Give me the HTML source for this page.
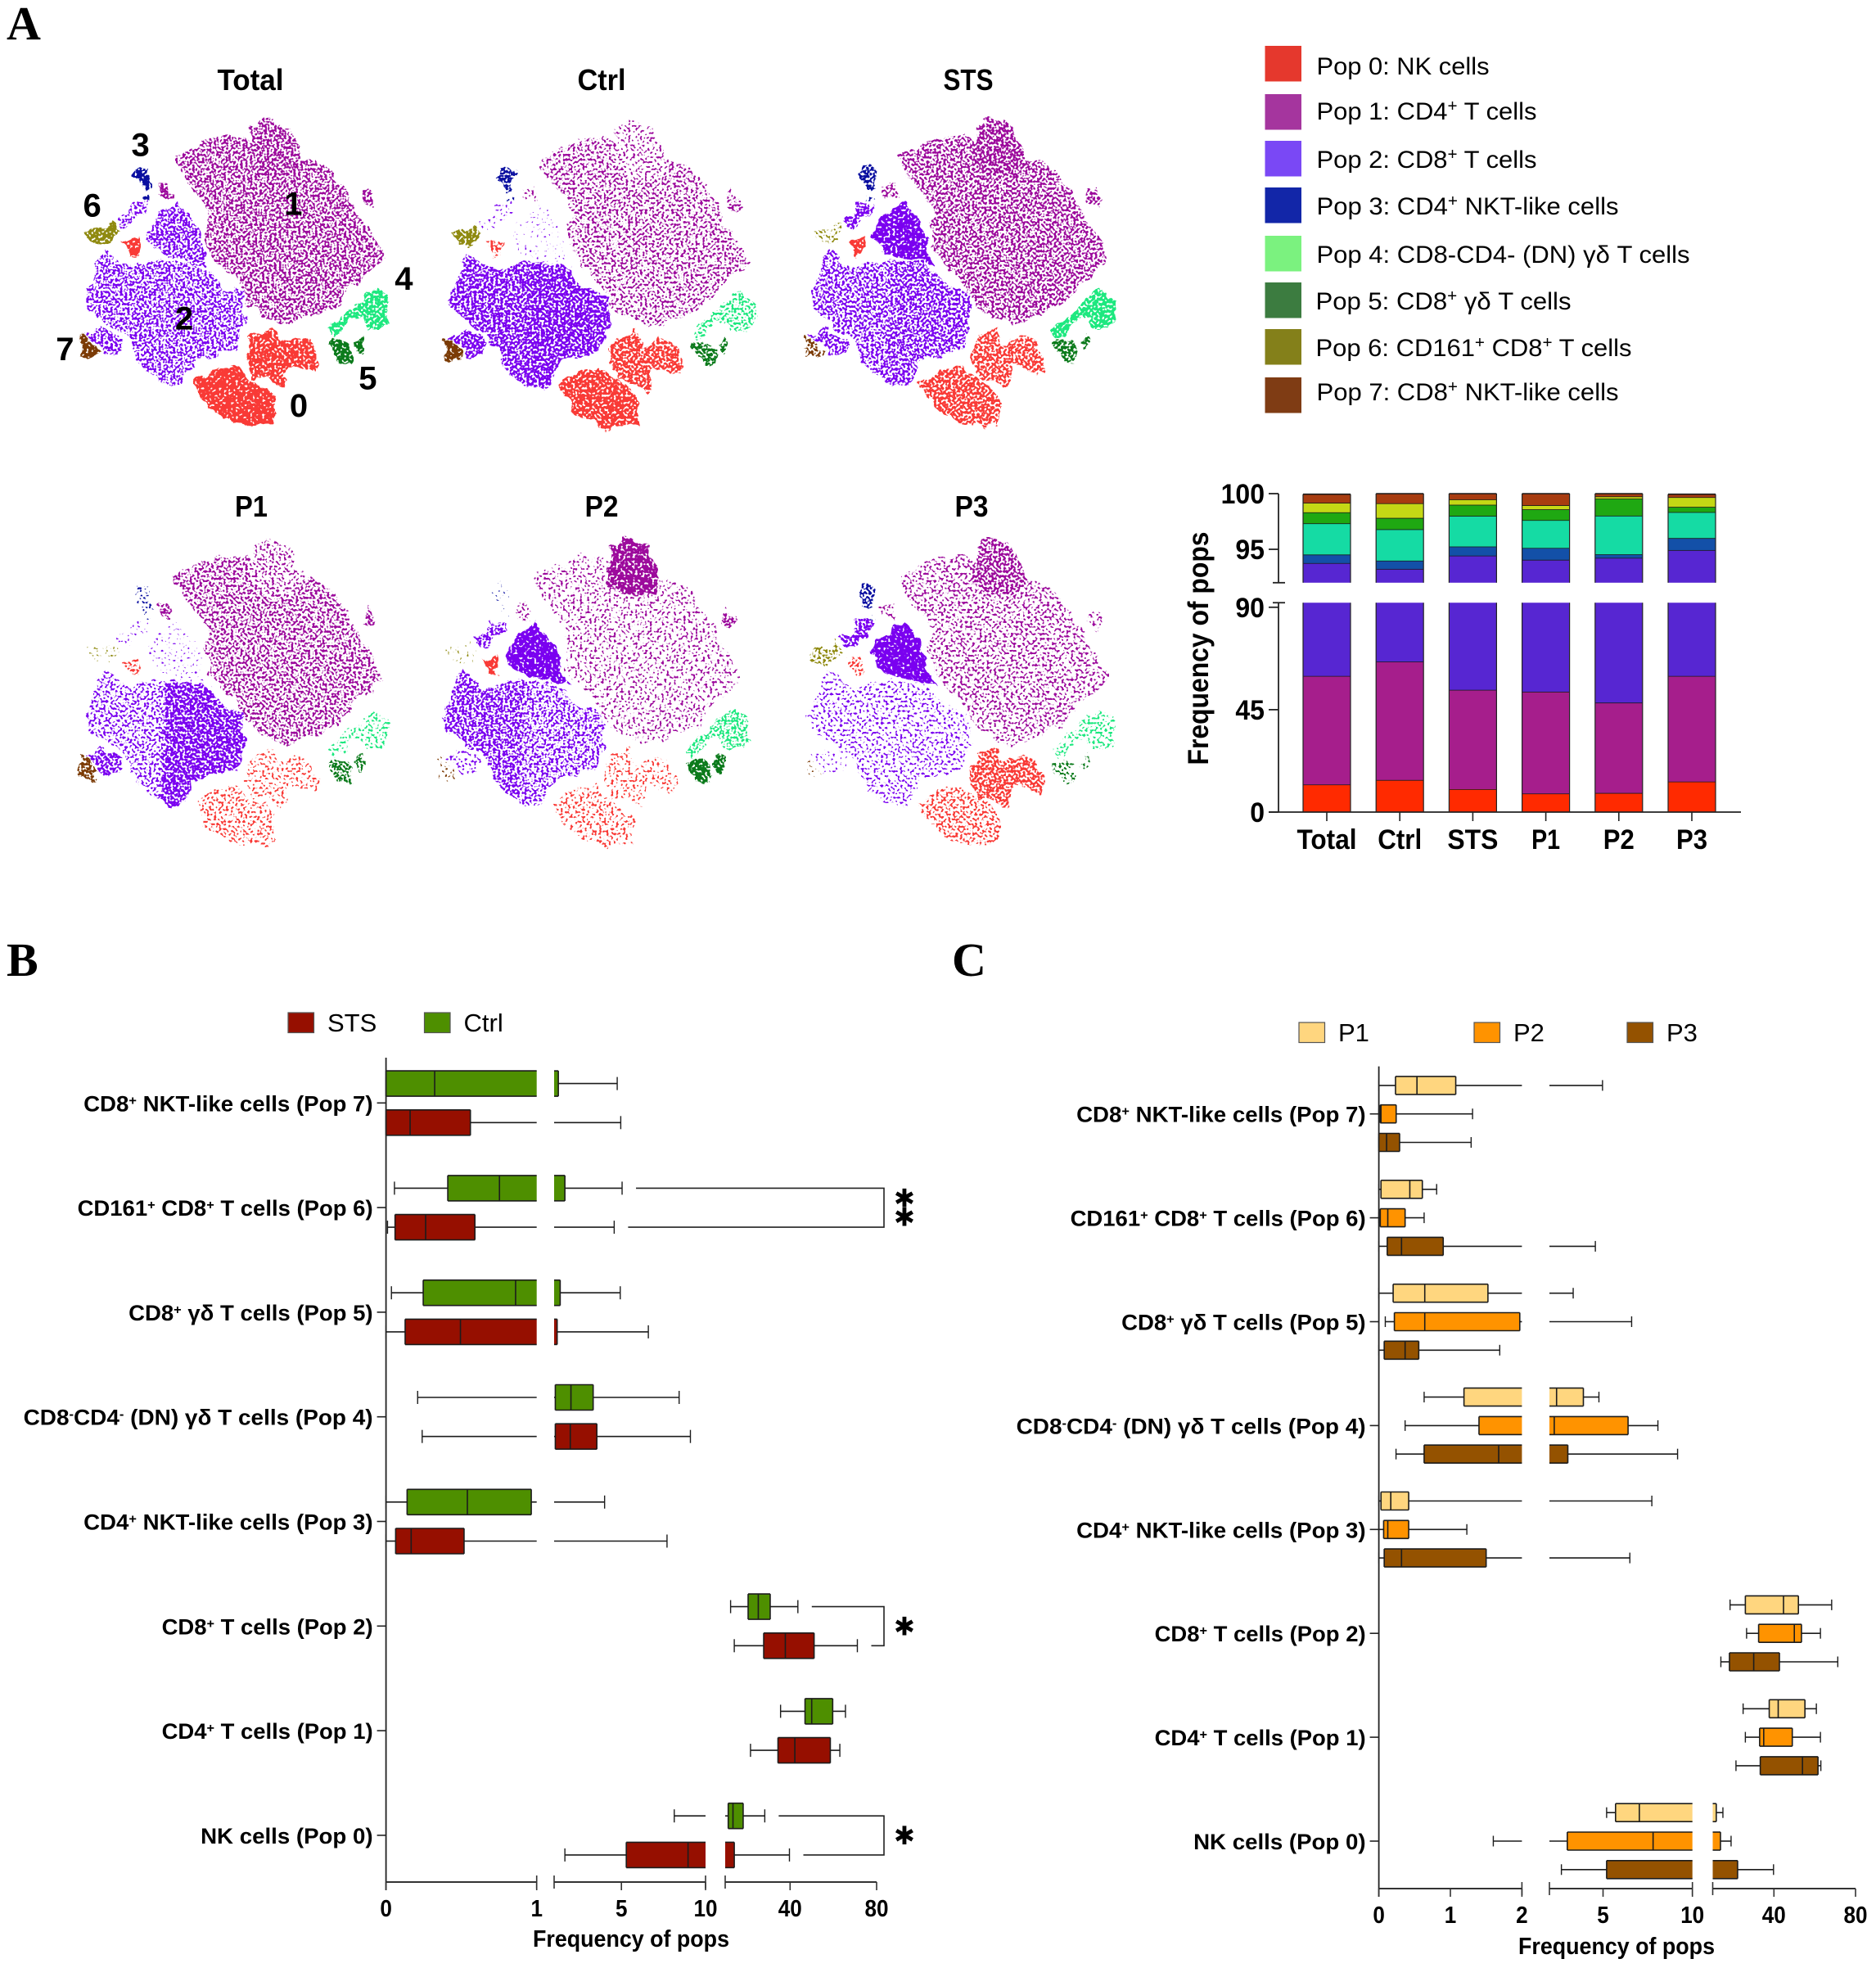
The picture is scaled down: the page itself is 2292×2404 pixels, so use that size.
<!DOCTYPE html>
<html lang="en">
<head>
<meta charset="utf-8">
<title>Immune cell populations figure</title>
<style>
html,body{margin:0;padding:0;background:#fff;}
svg{display:block;}
text{font-family:"Liberation Sans",sans-serif;fill:#000;white-space:pre;}
.panel-letter{font-family:"Liberation Serif",serif;font-weight:700;font-size:58px;}
.legend-text{font-size:30px;}
</style>
</head>
<body>
<svg id="figure" xmlns="http://www.w3.org/2000/svg" width="2292" height="2404" viewBox="0 0 2292 2404">
  <rect x="0" y="0" width="2292" height="2404" fill="#ffffff"/>
  <defs id="defs"></defs>
  <text class="panel-letter" x="8" y="48">A</text>
  <text class="panel-letter" x="8" y="1192">B</text>
  <text class="panel-letter" x="1163" y="1192">C</text>

  <g>
    <rect x="1545.5" y="56" width="44.5" height="43.5" fill="#e5382d"/>
    <text class="legend-text" x="1608.5" y="91" textLength="211" lengthAdjust="spacingAndGlyphs">Pop 0: NK cells</text>
    <rect x="1545.5" y="115" width="44.5" height="43.5" fill="#a5359e"/>
    <text class="legend-text" x="1608.5" y="146" textLength="269" lengthAdjust="spacingAndGlyphs">Pop 1: CD4<tspan dy="-10" font-size="20">+</tspan><tspan dy="10"> T cells</tspan></text>
    <rect x="1545.5" y="172" width="44.5" height="43.5" fill="#7a48f5"/>
    <text class="legend-text" x="1608.5" y="205" textLength="269" lengthAdjust="spacingAndGlyphs">Pop 2: CD8<tspan dy="-10" font-size="20">+</tspan><tspan dy="10"> T cells</tspan></text>
    <rect x="1545.5" y="229" width="44.5" height="43.5" fill="#1226a8"/>
    <text class="legend-text" x="1608.5" y="262" textLength="369" lengthAdjust="spacingAndGlyphs">Pop 3: CD4<tspan dy="-10" font-size="20">+</tspan><tspan dy="10"> NKT-like cells</tspan></text>
    <rect x="1545.5" y="288" width="44.5" height="43.5" fill="#7bf27f"/>
    <text class="legend-text" x="1608.5" y="321" textLength="456" lengthAdjust="spacingAndGlyphs">Pop 4: CD8-CD4- (DN) γδ T cells</text>
    <rect x="1545.5" y="345" width="44.5" height="43.5" fill="#3c7c40"/>
    <text class="legend-text" x="1607.5" y="378" textLength="312" lengthAdjust="spacingAndGlyphs">Pop 5: CD8<tspan dy="-10" font-size="20">+</tspan><tspan dy="10"> γδ T cells</tspan></text>
    <rect x="1545.5" y="402" width="44.5" height="43.5" fill="#84801a"/>
    <text class="legend-text" x="1607.5" y="435" textLength="386" lengthAdjust="spacingAndGlyphs">Pop 6: CD161<tspan dy="-10" font-size="20">+</tspan><tspan dy="10"> CD8</tspan><tspan dy="-10" font-size="20">+</tspan><tspan dy="10"> T cells</tspan></text>
    <rect x="1545.5" y="461" width="44.5" height="43.5" fill="#7f3c14"/>
    <text class="legend-text" x="1608.5" y="489" textLength="369" lengthAdjust="spacingAndGlyphs">Pop 7: CD8<tspan dy="-10" font-size="20">+</tspan><tspan dy="10"> NKT-like cells</tspan></text>
  </g>
  <g id="tsne-layer"></g>
  <g id="stack-layer"></g>
  <g id="box-b-layer"></g>
  <g id="box-c-layer"></g>
</svg>

<script>
/* ---------- Stacked bar chart data (percent of cells) ---------- */
const stackCategories = ['Total', 'Ctrl', 'STS', 'P1', 'P2', 'P3'];
const pop0Freq = [12.1, 14.1, 10.07, 8.15, 8.4, 13.4];
const pop1Freq = [47.7, 52.0, 43.63, 44.75, 39.7, 46.4];
const pop2Freq = [33.96, 27.14, 40.73, 41.16, 46.13, 35.13];
const pop3Freq = [0.77, 0.74, 0.82, 1.06, 0.32, 1.08];
const pop4Freq = [2.8, 2.82, 2.75, 2.5, 3.47, 2.33];
const pop5Freq = [0.99, 1.02, 1.0, 0.97, 1.53, 0.47];
const pop6Freq = [0.86, 1.31, 0.48, 0.37, 0.2, 0.87];
const pop7Freq = [0.77, 0.87, 0.52, 1.04, 0.25, 0.27];
const stackTicksLower = [0, 45, 90];
const stackTicksUpper = [95, 100];

/* ---------- Box chart B (frequency, top row = Pop 7) ---------- */
const popLabels = ['CD8^+ NKT-like cells (Pop 7)', 'CD161^+ CD8^+ T cells (Pop 6)', 'CD8^+ γδ T cells (Pop 5)', 'CD8^-CD4^- (DN) γδ T cells (Pop 4)', 'CD4^+ NKT-like cells (Pop 3)', 'CD8^+ T cells (Pop 2)', 'CD4^+ T cells (Pop 1)', 'NK cells (Pop 0)'];
const ctrlLow = [0, 0.056, 0.036, 0.21, 0, 12.5, 35.6, 8.14];
const ctrlQ1 = [0, 0.41, 0.247, 1.07, 0.14, 20.6, 46.9, 11.4];
const ctrlMedian = [0.323, 0.753, 0.86, 2.0, 0.54, 25.3, 50, 13.6];
const ctrlQ3 = [1.25, 1.64, 1.36, 3.32, 0.964, 30.8, 59.7, 18.3];
const ctrlHigh = [4.75, 5.04, 4.93, 8.43, 4.0, 43.6, 65.6, 28.3];
const stsLow = [0, 0.01, 0, 0.24, 0, 14.2, 21.7, 1.64];
const stsQ1 = [0, 0.06, 0.127, 1.07, 0.064, 27.8, 34.4, 5.29];
const stsMedian = [0.16, 0.263, 0.494, 1.96, 0.167, 37.8, 42.2, 8.96];
const stsQ3 = [0.56, 0.59, 1.18, 3.54, 0.518, 51.1, 58.6, 14.2];
const stsHigh = [4.96, 4.57, 6.6, 9.1, 7.71, 71.1, 63, 39.7];
const boxBTicks = [0, 1, 5, 10, 40, 80];
const significantRows = [1, 5, 7];
const significantMarks = [2, 1, 1];

/* ---------- Box chart C ---------- */
const p1Low = [0, 0, 0, 0.633, 0, 18.5, 24.9, 5.2];
const p1Q1 = [0.233, 0.03, 0.2, 1.19, 0.03, 26, 37.7, 5.7];
const p1Median = [0.533, 0.433, 0.642, 2.4, 0.167, 44.7, 42.1, 7.03];
const p1Q3 = [1.075, 0.608, 1.525, 3.9, 0.417, 52, 55.2, 11.75];
const p1High = [4.97, 0.808, 3.33, 4.77, 7.73, 68.3, 60.8, 15];
const p2Low = [0, 0, 0.09, 0.367, 0, 26.6, 26, 1.6];
const p2Q1 = [0.02, 0.02, 0.217, 1.4, 0.067, 32.5, 33, 3];
const p2Median = [0.03, 0.125, 0.642, 2.27, 0.125, 50, 35, 7.8];
const p2Q3 = [0.242, 0.367, 1.97, 6.4, 0.417, 53.5, 49, 13.8];
const p2High = [1.31, 0.633, 6.6, 8.07, 1.23, 62.8, 62.8, 19];
const p3Low = [0, 0, 0, 0.24, 0, 14, 21.4, 2.67];
const p3Q1 = [0, 0.117, 0.075, 0.633, 0.075, 18.2, 33.3, 5.2];
const p3Median = [0.108, 0.317, 0.367, 1.675, 0.317, 30.1, 54, 10];
const p3Q3 = [0.29, 0.9, 0.558, 3.03, 1.5, 42.7, 61.6, 22.2];
const p3High = [1.29, 4.57, 1.69, 9.17, 6.5, 71.3, 63, 39.8];
const boxCTicks = [0, 1, 2, 5, 10, 40, 80];

/* ---------- t-SNE cluster outlines (embedding units) and per-sample cell density ---------- */
const tsneSamples = ['Total', 'Ctrl', 'STS', 'P1', 'P2', 'P3'];
const outlinePop1Top = [[745,75],[790,40],[880,75],[900,130],[930,185],[900,260],[780,250],[725,200],[745,130]];
const outlinePop1Main = [[455,185],[540,145],[630,110],[700,105],[745,130],[725,200],[780,250],[900,260],[930,185],[1000,210],[1030,235],[1075,300],[1115,360],[1140,420],[1170,445],[1228,560],[1180,600],[1110,660],[1060,730],[960,770],[870,800],[800,770],[740,740],[680,640],[620,570],[585,530],[570,430],[590,390],[540,310],[490,260]];
const outlinePop1Sat = [[1150,350],[1165,295],[1200,340],[1185,375]];
const outlinePop1Small = [[395,290],[440,280],[450,340],[405,330]];
const outlinePop2Upper = [[360,480],[385,410],[440,370],[470,350],[520,400],[555,470],[560,530],[590,590],[540,570],[440,550],[380,520]];
const outlinePop2Left = [[125,710],[150,640],[175,600],[175,560],[200,525],[250,570],[300,585],[370,570],[430,565],[420,800],[410,1010],[340,960],[300,880],[270,830],[220,810],[140,740]];
const outlinePop2Right = [[430,565],[540,575],[590,610],[640,660],[710,690],[720,790],[690,890],[620,910],[540,930],[490,1020],[470,1030],[410,1010],[420,800]];
const outlinePop2Lower = [[125,840],[190,815],[270,850],[260,900],[200,915],[180,880]];
const outlinePop2Small = [[305,345],[355,345],[365,390],[320,410],[290,440],[260,440],[245,410],[290,395]];
const outlinePop0Small = [[272,490],[325,480],[335,510],[325,550],[300,550],[285,520]];
const outlinePop0Upper = [[720,920],[745,840],[820,810],[840,870],[900,840],[960,860],[990,940],[980,980],[930,960],[880,950],[860,1035],[800,1000],[750,1000]];
const outlinePop0Lower = [[527,1015],[620,960],[680,950],[725,990],[790,1025],[825,1060],[825,1165],[720,1168],[640,1140],[580,1100]];
const outlinePop3 = [[302,250],[330,212],[375,225],[365,270],[372,300],[350,312],[325,270]];
const outlinePop3Small = [[340,330],[360,325],[368,345],[340,345]];
const outlinePop4 = [[1020,815],[1060,780],[1120,730],[1200,672],[1253,715],[1245,790],[1225,810],[1160,810],[1150,770],[1100,790],[1070,830],[1035,845]];
const outlinePop5A = [[1022,875],[1040,850],[1095,860],[1110,880],[1105,940],[1065,940]];
const outlinePop5B = [[1122,870],[1145,835],[1160,860],[1150,900],[1135,900]];
const outlinePop6 = [[133,455],[210,440],[230,420],[255,460],[235,495],[200,500],[155,490]];
const outlinePop7 = [[112,840],[135,850],[185,905],[150,930],[115,915]];

const densityPop1Top = [0.6, 0.35, 0.65, 0.4, 0.8, 0.6];
const densityPop1Main = [0.55, 0.45, 0.55, 0.5, 0.33, 0.38];
const densityPop1Sat = [0.65, 0.5, 0.6, 0.6, 0.6, 0.4];
const densityPop1Small = [0.7, 0.35, 0.5, 0.6, 0.4, 0.4];
const densityPop2Upper = [0.6, 0.1, 0.85, 0.15, 0.9, 0.95];
const densityPop2Left = [0.55, 0.65, 0.55, 0.45, 0.6, 0.33];
const densityPop2Right = [0.55, 0.68, 0.6, 0.68, 0.5, 0.35];
const densityPop2Lower = [0.6, 0.7, 0.6, 0.65, 0.35, 0.2];
const densityPop2Small = [0.5, 0.2, 0.7, 0.2, 0.6, 0.7];
const densityPop0Small = [0.9, 0.55, 0.9, 0.5, 0.85, 0.5];
const densityPop0Upper = [0.8, 0.7, 0.65, 0.35, 0.35, 0.65];
const densityPop0Lower = [0.88, 0.78, 0.7, 0.42, 0.4, 0.45];
const densityPop3 = [0.85, 0.7, 0.7, 0.35, 0.1, 0.6];
const densityPop3Small = [0.8, 0.3, 0.3, 0.3, 0.1, 0.2];
const densityPop4 = [0.75, 0.5, 0.8, 0.4, 0.55, 0.4];
const densityPop5A = [0.85, 0.7, 0.7, 0.6, 0.8, 0.4];
const densityPop5B = [0.85, 0.7, 0.7, 0.6, 0.8, 0.4];
const densityPop6 = [0.85, 0.8, 0.4, 0.15, 0.15, 0.5];
const densityPop7 = [0.95, 0.9, 0.6, 0.7, 0.25, 0.15];

const clusterLabels = ['0', '1', '2', '3', '4', '5', '6', '7'];
const clusterLabelSpots = [[915,1095],[895,355],[495,775],[335,140],[1300,630],[1168,995],[158,362],[58,888]];

/* ---------- Helpers ---------- */
const NS = 'http://www.w3.org/2000/svg';
function mk(tag, attrs, parent) {
  const el = document.createElementNS(NS, tag);
  for (const k in attrs) el.setAttribute(k, attrs[k]);
  if (parent) parent.appendChild(el);
  return el;
}
function richLabel(el, str, supSize, rise) {
  const parts = str.split(/\^([+-])/);
  let pending = 0;
  parts.forEach((p, i) => {
    if (i % 2 === 1) {
      const s = mk('tspan', {dy: -rise - 0 + pending, 'font-size': supSize}, el);
      s.textContent = p === '-' ? '-' : '+';
      pending = rise;
    } else if (p.length) {
      const s = mk('tspan', {dy: pending}, el);
      s.textContent = p;
      pending = 0;
    }
  });
}

/* ---------- t-SNE panels ---------- */
const defs = document.getElementById('defs');
const tsneLayer = document.getElementById('tsne-layer');
const popColor = {0:'#f93a36', 1:'#9c0a9c', 2:'#7a00f0', 3:'#0a0fa0', 4:'#1de87f', 5:'#0b7a1b', 6:'#8f8a10', 7:'#7b3b05'};
const tsnePieces = [
  ['pop-1-top', 1, outlinePop1Top, densityPop1Top],
  ['pop-1-main', 1, outlinePop1Main, densityPop1Main],
  ['pop-1-satellite', 1, outlinePop1Sat, densityPop1Sat],
  ['pop-1-small', 1, outlinePop1Small, densityPop1Small],
  ['pop-2-upper', 2, outlinePop2Upper, densityPop2Upper],
  ['pop-2-left', 2, outlinePop2Left, densityPop2Left],
  ['pop-2-right', 2, outlinePop2Right, densityPop2Right],
  ['pop-2-lower', 2, outlinePop2Lower, densityPop2Lower],
  ['pop-2-small', 2, outlinePop2Small, densityPop2Small],
  ['pop-0-small', 0, outlinePop0Small, densityPop0Small],
  ['pop-0-upper', 0, outlinePop0Upper, densityPop0Upper],
  ['pop-0-lower', 0, outlinePop0Lower, densityPop0Lower],
  ['pop-3', 3, outlinePop3, densityPop3],
  ['pop-3-small', 3, outlinePop3Small, densityPop3Small],
  ['pop-4', 4, outlinePop4, densityPop4],
  ['pop-5-a', 5, outlinePop5A, densityPop5A],
  ['pop-5-b', 5, outlinePop5B, densityPop5B],
  ['pop-6', 6, outlinePop6, densityPop6],
  ['pop-7', 7, outlinePop7, densityPop7]
];
const tsnePanelOffset = {Total:[0,0], Ctrl:[445,3], STS:[886,0], P1:[0,513], P2:[438,513], P3:[885,513]};
const tsneTitlePos = {Total:[306,110], Ctrl:[735,110], STS:[1183,110], P1:[307,631], P2:[735,631], P3:[1187,631]};
const tsneTitleWidth = {Total:81, Ctrl:59, STS:61, P1:40, P2:41, P3:41};
function tsneX(t, sample) { return 60 + t / 3 + tsnePanelOffset[sample][0]; }
function tsneY(t, sample) { return 130 + t / 3 + tsnePanelOffset[sample][1]; }
const madeFilters = {};
function speckleFilter(sampleIdx, density) {
  const d = Math.round(density * 20) / 20;
  const id = 'speck-' + sampleIdx + '-' + Math.round(d * 100);
  if (madeFilters[id]) return id;
  madeFilters[id] = true;
  const f = mk('filter', {id: id, x: '-15%', y: '-15%', width: '130%', height: '130%', 'color-interpolation-filters': 'sRGB'}, defs);
  const seed = 3 + sampleIdx * 7;
  mk('feTurbulence', {type: 'fractalNoise', baseFrequency: '0.06', numOctaves: 3, seed: seed, result: 'warp'}, f);
  mk('feDisplacementMap', {in: 'SourceGraphic', in2: 'warp', scale: 16, xChannelSelector: 'R', yChannelSelector: 'G', result: 'shape'}, f);
  mk('feTurbulence', {type: 'fractalNoise', baseFrequency: '0.34', numOctaves: 1, seed: seed + 1, result: 'noise'}, f);
  const thresh = 0.5 + (0.5 - d) * 0.42;
  const k = 14;
  mk('feColorMatrix', {in: 'noise', type: 'matrix', values: '0 0 0 0 0  0 0 0 0 0  0 0 0 0 0  ' + k + ' 0 0 0 ' + (-k * thresh), result: 'mask'}, f);
  mk('feComposite', {in: 'shape', in2: 'mask', operator: 'in'}, f);
  return id;
}
tsneSamples.forEach((sample, si) => {
  const g = mk('g', {}, tsneLayer);
  
  
  const title = mk('text', {x: tsneTitlePos[sample][0], y: tsneTitlePos[sample][1], 'text-anchor': 'middle', 'font-size': 36, 'font-weight': 700, textLength: tsneTitleWidth[sample], lengthAdjust: 'spacingAndGlyphs'}, g);
  title.textContent = sample;
  
  
  tsnePieces.forEach(piece => {
    const pts = piece[2].map(p => tsneX(p[0], sample).toFixed(1) + ',' + tsneY(p[1], sample).toFixed(1)).join(' ');
    const poly = mk('polygon', {points: pts, fill: popColor[piece[1]], filter: 'url(#' + speckleFilter(si, piece[3][si]) + ')'}, g);
    
    
  });
  if (sample === 'Total') {
    clusterLabels.forEach((lab, i) => {
      const t = mk('text', {x: tsneX(clusterLabelSpots[i][0], sample), y: tsneY(clusterLabelSpots[i][1], sample) + 14, 'text-anchor': 'middle', 'font-size': 40, 'font-weight': 700}, g);
      t.textContent = lab;
      
      
    });
  }
});

/* ---------- Stacked bar chart ---------- */
const stackLayer = document.getElementById('stack-layer');
const stackSeries = [pop0Freq, pop1Freq, pop2Freq, pop3Freq, pop4Freq, pop5Freq, pop6Freq, pop7Freq];
const stackColors = ['#ff2a00', '#a61e8c', '#5726d2', '#1350a8', '#15dba4', '#1fa812', '#c5d815', '#a83c10'];
const stackLabelWidths = [73, 54, 62, 35, 38, 38];
const breakValue = 92;
function yLower(v) { return 992 - v * 2.78; }
function yUpper(v) { return 603 + (100 - v) * 13.6; }
function stackX(i) { return 1621 + i * 89.2; }
const stackBarW = 58;
stackCategories.forEach((cat, i) => {
  const x = stackX(i) - stackBarW / 2;
  const g = mk('g', {}, stackLayer);
  
  
  let cum = 0;
  stackSeries.forEach((series, p) => {
    const a = cum, b = cum + series[i];
    cum = b;
    if (a < breakValue) {
      const top = yLower(Math.min(b, breakValue));
      const r = mk('rect', {x: x, y: top, width: stackBarW, height: yLower(a) - top, fill: stackColors[p]}, g);
      
      
    }
    if (b > breakValue) {
      const top = yUpper(b);
      const r = mk('rect', {x: x, y: top, width: stackBarW, height: yUpper(Math.max(a, breakValue)) - top, fill: stackColors[p]}, g);
      
      
    }
    const sepY = b < breakValue ? yLower(b) : yUpper(b);
    const sep = mk('line', {x1: x, x2: x + stackBarW, y1: sepY, y2: sepY, stroke: '#1a1a1a', 'stroke-width': 1.6}, g);
    
    
  });
  [x, x + stackBarW].forEach(ex => {
    const top = yUpper(cum);
    const e1 = mk('line', {x1: ex, x2: ex, y1: top, y2: yUpper(breakValue), stroke: '#222', 'stroke-width': 1.2}, g);
    
    
    const e2 = mk('line', {x1: ex, x2: ex, y1: yLower(breakValue), y2: yLower(0), stroke: '#222', 'stroke-width': 1.2}, g);
    
    
  });
  const tick = mk('line', {x1: stackX(i), x2: stackX(i), y1: 992, y2: 1003, stroke: '#222', 'stroke-width': 1.6}, stackLayer);
  
  
  const lab = mk('text', {x: stackX(i), y: 1037, 'text-anchor': 'middle', 'font-size': 34, 'font-weight': 700, textLength: stackLabelWidths[i], lengthAdjust: 'spacingAndGlyphs'}, stackLayer);
  lab.textContent = cat;
  
  
});
const stackAxisX = 1562;
[[yUpper(100), yUpper(breakValue)], [yLower(breakValue), yLower(0)]].forEach(seg => {
  const ax = mk('line', {x1: stackAxisX, x2: stackAxisX, y1: seg[0], y2: seg[1], stroke: '#222', 'stroke-width': 1.8}, stackLayer);
  
  
});
const xAxisLine = mk('line', {x1: 1550, x2: 2127, y1: 992, y2: 992, stroke: '#222', 'stroke-width': 1.8}, stackLayer);


[yUpper(breakValue), yLower(breakValue)].forEach(y => {
  const bt = mk('line', {x1: 1555, x2: 1570, y1: y, y2: y, stroke: '#222', 'stroke-width': 1.8}, stackLayer);
  
  
});
function stackYTick(v, y) {
  const t = mk('line', {x1: 1550, x2: 1562, y1: y, y2: y, stroke: '#222', 'stroke-width': 1.8}, stackLayer);
  
  
  const l = mk('text', {x: 1545, y: y + 12, 'text-anchor': 'end', 'font-size': 34, 'font-weight': 700, textLength: String(v).length * 17.8, lengthAdjust: 'spacingAndGlyphs'}, stackLayer);
  l.textContent = v;
  
  
}
stackTicksLower.forEach(v => stackYTick(v, yLower(v)));
stackTicksUpper.forEach(v => stackYTick(v, yUpper(v)));
const stackYTitle = mk('text', {transform: 'translate(1476 792) rotate(-90)', 'text-anchor': 'middle', 'font-size': 35, 'font-weight': 700, textLength: 285, lengthAdjust: 'spacingAndGlyphs'}, stackLayer);
stackYTitle.textContent = 'Frequency of pops';



/* ---------- Broken-axis box charts ---------- */
const labelWidths = [353.5, 361, 298.5, 427, 353.5, 258, 258, 210.5];
function scaleX(segs, v) {
  for (const s of segs) if (v >= s.lo && v <= s.hi) return s.x0 + (v - s.lo) / (s.hi - s.lo) * (s.x1 - s.x0);
  return null;
}
function spans(segs, a, b) {
  const out = [];
  for (const s of segs) {
    const lo = Math.max(a, s.lo), hi = Math.min(b, s.hi);
    if (lo < hi) out.push({x0: scaleX([s], lo), x1: scaleX([s], hi), startsHere: lo === a, endsHere: hi === b});
  }
  return out;
}
function drawBoxChart(layer, cfg) {
  const stroke = '#1c1c1c';
  popLabels.forEach((label, i) => {
    const rowY = cfg.rowY(i);
    const t = mk('line', {x1: cfg.axisX - 11, x2: cfg.axisX, y1: rowY, y2: rowY, stroke: '#222', 'stroke-width': 1.6}, layer);
    
    
    const lab = mk('text', {x: cfg.axisX - 16, y: rowY + 10, 'text-anchor': 'end', 'font-size': 27, 'font-weight': 700, textLength: labelWidths[i], lengthAdjust: 'spacingAndGlyphs'}, layer);
    richLabel(lab, label, 16, 8);
    
    
    cfg.series.forEach((ser, j) => {
      const y = rowY + cfg.offsets[j];
      const h = cfg.boxH;
      const g = mk('g', {}, layer);
      
      
      const lo = ser.low[i], q1 = ser.q1[i], med = ser.med[i], q3 = ser.q3[i], hi = ser.high[i];
      spans(cfg.segs, lo, q1).concat(spans(cfg.segs, q3, hi)).forEach(s => {
        const w = mk('line', {x1: s.x0, x2: s.x1, y1: y, y2: y, stroke: stroke, 'stroke-width': 1.6}, g);
        
        
      });
      [lo, hi].forEach(v => {
        const cx = scaleX(cfg.segs, v);
        if (cx === null) return;
        const c = mk('line', {x1: cx, x2: cx, y1: y - cfg.capH / 2, y2: y + cfg.capH / 2, stroke: stroke, 'stroke-width': 1.4}, g);
        
        
      });
      spans(cfg.segs, q1, q3).forEach(s => {
        const r = mk('rect', {x: s.x0, y: y - h / 2, width: s.x1 - s.x0, height: h, fill: ser.color}, g);
        
        
        [y - h / 2, y + h / 2].forEach(ly => {
          const e = mk('line', {x1: s.x0, x2: s.x1, y1: ly, y2: ly, stroke: stroke, 'stroke-width': 1.6}, g);
          
          
        });
        if (s.startsHere) {
          const e = mk('line', {x1: s.x0, x2: s.x0, y1: y - h / 2, y2: y + h / 2, stroke: stroke, 'stroke-width': 1.6}, g);
          
          
        }
        if (s.endsHere) {
          const e = mk('line', {x1: s.x1, x2: s.x1, y1: y - h / 2, y2: y + h / 2, stroke: stroke, 'stroke-width': 1.6}, g);
          
          
        }
      });
      const mx = scaleX(cfg.segs, med);
      if (mx !== null && med !== cfg.segs[1].hi) {
        const m = mk('line', {x1: mx, x2: mx, y1: y - h / 2, y2: y + h / 2, stroke: stroke, 'stroke-width': 1.6}, g);
        
        
      }
    });
  });
  const yAxis = mk('line', {x1: cfg.axisX, x2: cfg.axisX, y1: cfg.axisTop, y2: cfg.axisY + 10, stroke: '#222', 'stroke-width': 1.8}, layer);
  
  
  cfg.segs.forEach((s, si) => {
    const a = mk('line', {x1: s.x0, x2: s.x1, y1: cfg.axisY, y2: cfg.axisY, stroke: '#333', 'stroke-width': 2}, layer);
    
    
    if (si > 0) {
      const st = mk('line', {x1: s.x0, x2: s.x0, y1: cfg.axisY - 8, y2: cfg.axisY + 8, stroke: '#333', 'stroke-width': 1.6}, layer);
      
      
    }
    if (si < cfg.segs.length - 1) {
      const en = mk('line', {x1: s.x1, x2: s.x1, y1: cfg.axisY - 8, y2: cfg.axisY + 8, stroke: '#333', 'stroke-width': 1.6}, layer);
      
      
    }
  });
  cfg.ticks.forEach(v => {
    const x = scaleX(cfg.segs, v);
    const t = mk('line', {x1: x, x2: x, y1: cfg.axisY, y2: cfg.axisY + 10, stroke: '#333', 'stroke-width': 1.6}, layer);
    
    
    const l = mk('text', {x: x, y: cfg.axisY + 42, 'text-anchor': 'middle', 'font-size': 29, 'font-weight': 700, textLength: String(v).length * 14.5, lengthAdjust: 'spacingAndGlyphs'}, layer);
    l.textContent = v;
    
    
  });
  const xt = mk('text', {x: cfg.titleX, y: cfg.axisY + cfg.titleDy, 'text-anchor': 'middle', 'font-size': 29, 'font-weight': 700, textLength: 240, lengthAdjust: 'spacingAndGlyphs'}, layer);
  xt.textContent = 'Frequency of pops';
  
  
  cfg.legend.forEach(item => {
    const sw = mk('rect', {x: item.x, y: cfg.legendY, width: 31.5, height: 24.5, fill: item.color, stroke: '#555', 'stroke-width': 1.2}, layer);
    
    
    const tx = mk('text', {x: item.x + 48, y: cfg.legendY + 23, 'font-size': 31}, layer);
    tx.textContent = item.label;
    
    
  });
}

const segsB = [{lo:0,hi:1,x0:471.6,x1:655.7},{lo:1,hi:10,x0:677,x1:862},{lo:10,hi:80,x0:886,x1:1071}];
const segsC = [{lo:0,hi:2,x0:1684.6,x1:1859.4},{lo:2,hi:10,x0:1893,x1:2067.7},{lo:10,hi:80,x0:2092.5,x1:2267}];
const layerB = document.getElementById('box-b-layer');
const layerC = document.getElementById('box-c-layer');
function rowYB(i) { return 1347.3 + 127.8 * i; }
function rowYC(i) { return 1360.7 + 126.9 * i; }
drawBoxChart(layerB, {
  segs: segsB, ticks: boxBTicks, rowY: rowYB, axisX: 471.6, axisTop: 1292, axisY: 2299, titleX: 771, titleDy: 79,
  offsets: [-23.7, 24], boxH: 31, capH: 16, legendY: 1237,
  legend: [{x: 352, color: '#960f00', label: 'STS'}, {x: 518.5, color: '#4e8f00', label: 'Ctrl'}],
  series: [
    {name: 'ctrl', color: '#4e8f00', low: ctrlLow, q1: ctrlQ1, med: ctrlMedian, q3: ctrlQ3, high: ctrlHigh},
    {name: 'sts', color: '#960f00', low: stsLow, q1: stsQ1, med: stsMedian, q3: stsQ3, high: stsHigh}
  ]
});
drawBoxChart(layerC, {
  segs: segsC, ticks: boxCTicks, rowY: rowYC, axisX: 1684.6, axisTop: 1302.6, axisY: 2307, titleX: 1975, titleDy: 80,
  offsets: [-34.8, 0, 34.8], boxH: 22, capH: 13, legendY: 1249,
  legend: [{x: 1587, color: '#ffd67f', label: 'P1'}, {x: 1801, color: '#ff9300', label: 'P2'}, {x: 1988, color: '#945200', label: 'P3'}],
  series: [
    {name: 'p1', color: '#ffd67f', low: p1Low, q1: p1Q1, med: p1Median, q3: p1Q3, high: p1High},
    {name: 'p2', color: '#ff9300', low: p2Low, q1: p2Q1, med: p2Median, q3: p2Q3, high: p2High},
    {name: 'p3', color: '#945200', low: p3Low, q1: p3Q1, med: p3Median, q3: p3Q3, high: p3High}
  ]
});

/* significance brackets on chart B */
significantRows.forEach((row, k) => {
  const y0 = rowYB(row) - 23.7, y1 = rowYB(row) + 24, bx = 1080;
  const x0 = scaleX(segsB, ctrlHigh[row]) + 17, x1 = scaleX(segsB, stsHigh[row]) + 17;
  const b = mk('polyline', {points: x0 + ',' + y0 + ' ' + bx + ',' + y0 + ' ' + bx + ',' + y1 + ' ' + x1 + ',' + y1, fill: 'none', stroke: '#222', 'stroke-width': 1.6}, layerB);
  
  
  for (let n = 0; n < significantMarks[k]; n++) {
    const cy = rowYB(row) + (significantMarks[k] === 2 ? (n === 0 ? -11.5 : 11.5) : 0);
    const s = mk('text', {x: 1105, y: cy + 11, 'text-anchor': 'middle', 'font-size': 31, 'font-weight': 700, style: 'font-family:"DejaVu Sans",sans-serif'}, layerB);
    s.textContent = '✱';
    
    
  }
});
</script>
</body>
</html>
